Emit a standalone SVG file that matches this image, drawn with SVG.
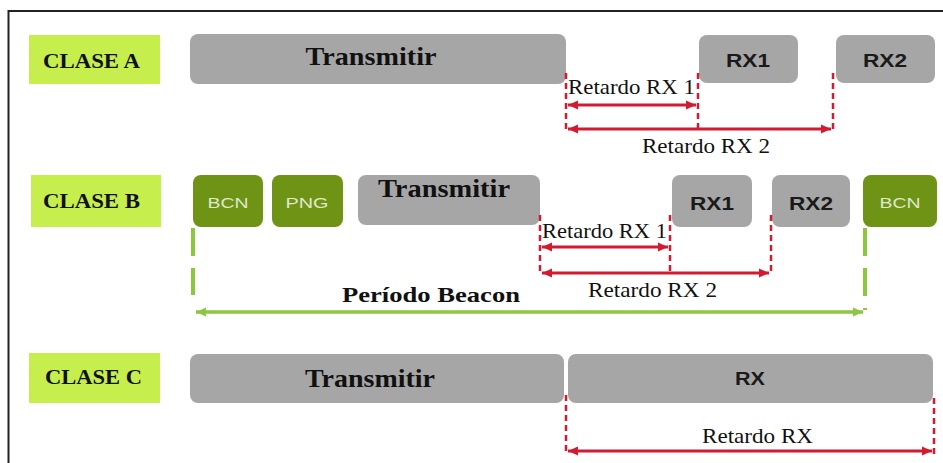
<svg xmlns="http://www.w3.org/2000/svg" width="943" height="463" viewBox="0 0 943 463">
<defs>
<style>
.lbl{fill:#c6ef4e}
.gbox{fill:#a6a6a6}
.dbox{fill:#6f9314}
.lt{font-family:"Liberation Serif","Times New Roman",serif;font-weight:bold;font-size:21px;fill:#111}
.tt{font-family:"Liberation Serif","Times New Roman",serif;font-weight:bold;font-size:25px;fill:#111;text-anchor:middle}
.rx{font-family:"Liberation Sans",Arial,sans-serif;font-weight:bold;font-size:19px;fill:#1a1a1a;text-anchor:middle}
.bc{font-family:"Liberation Sans",Arial,sans-serif;font-size:15px;fill:#dfe8cf;text-anchor:middle}
.rt{font-family:"Liberation Serif","Times New Roman",serif;font-size:22px;fill:#111}
.pb{font-family:"Liberation Serif","Times New Roman",serif;font-weight:bold;font-size:21px;fill:#111}
.rd{stroke:#d41a30;stroke-width:2.5;stroke-dasharray:6 4;fill:none}
.ra{stroke:#d41a30;stroke-width:3;fill:none;marker-start:url(#rs);marker-end:url(#re)}
.gd{stroke:#8dc63f;stroke-width:4;stroke-dasharray:28 12;fill:none}
.ga{stroke:#8dc63f;stroke-width:3.5;fill:none;marker-start:url(#gs);marker-end:url(#ge)}
</style>
<marker id="re" markerUnits="userSpaceOnUse" markerWidth="12" markerHeight="12" refX="10" refY="6" orient="auto"><path d="M0,1.5 L10,6 L0,10.5 Z" fill="#d41a30"/></marker>
<marker id="rs" markerUnits="userSpaceOnUse" markerWidth="12" markerHeight="12" refX="2" refY="6" orient="auto"><path d="M12,1.5 L2,6 L12,10.5 Z" fill="#d41a30"/></marker>
<marker id="ge" markerUnits="userSpaceOnUse" markerWidth="12" markerHeight="12" refX="10" refY="6" orient="auto"><path d="M0,1.5 L10,6 L0,10.5 Z" fill="#8dc63f"/></marker>
<marker id="gs" markerUnits="userSpaceOnUse" markerWidth="12" markerHeight="12" refX="2" refY="6" orient="auto"><path d="M12,1.5 L2,6 L12,10.5 Z" fill="#8dc63f"/></marker>
</defs>
<rect width="943" height="463" fill="#fff"/>
<path d="M8.5,463 V11 H943" fill="none" stroke="#222" stroke-width="2"/>

<g id="claseA">
<rect class="lbl" x="29" y="35" width="131" height="49"/>
<text class="lt" x="43" y="68" textLength="97" lengthAdjust="spacingAndGlyphs">CLASE A</text>
</g>
<g id="txA">
<rect class="gbox" x="190" y="34" width="376" height="50" rx="8"/>
<text class="tt" x="371" y="65" textLength="131" lengthAdjust="spacingAndGlyphs">Transmitir</text>
</g>
<g id="rx1A">
<rect class="gbox" x="699" y="35" width="99" height="48" rx="8"/>
<text class="rx" x="748" y="67" textLength="44" lengthAdjust="spacingAndGlyphs">RX1</text>
</g>
<g id="rx2A">
<rect class="gbox" x="836" y="35" width="99" height="48" rx="8"/>
<text class="rx" x="885" y="67" textLength="44" lengthAdjust="spacingAndGlyphs">RX2</text>
</g>

<g id="claseB">
<rect class="lbl" x="31" y="175" width="130" height="52"/>
<text class="lt" x="43" y="208" textLength="97" lengthAdjust="spacingAndGlyphs">CLASE B</text>
</g>
<g id="bcnB1">
<rect class="dbox" x="193" y="175" width="70" height="52" rx="8"/>
<text class="bc" x="228" y="208" textLength="41" lengthAdjust="spacingAndGlyphs">BCN</text>
</g>
<g id="pngB">
<rect class="dbox" x="272" y="175" width="71" height="52" rx="8"/>
<text class="bc" x="307" y="208" textLength="43" lengthAdjust="spacingAndGlyphs">PNG</text>
</g>
<g id="txB">
<rect class="gbox" x="358" y="175" width="182" height="50" rx="8"/>
<text class="tt" x="444" y="197" textLength="132" lengthAdjust="spacingAndGlyphs">Transmitir</text>
</g>
<g id="rx1B">
<rect class="gbox" x="672" y="175" width="80" height="52" rx="8"/>
<text class="rx" x="712" y="210" textLength="44" lengthAdjust="spacingAndGlyphs">RX1</text>
</g>
<g id="rx2B">
<rect class="gbox" x="772" y="175" width="78" height="52" rx="8"/>
<text class="rx" x="811" y="210" textLength="44" lengthAdjust="spacingAndGlyphs">RX2</text>
</g>
<g id="bcnB2">
<rect class="dbox" x="863" y="175" width="74" height="52" rx="8"/>
<text class="bc" x="900" y="208" textLength="41" lengthAdjust="spacingAndGlyphs">BCN</text>
</g>

<g id="claseC">
<rect class="lbl" x="29" y="353" width="131" height="50"/>
<text class="lt" x="45" y="384" textLength="97" lengthAdjust="spacingAndGlyphs">CLASE C</text>
</g>
<g id="txC">
<rect class="gbox" x="190" y="354" width="374" height="49" rx="8"/>
<text class="tt" x="370" y="387" textLength="130" lengthAdjust="spacingAndGlyphs">Transmitir</text>
</g>
<g id="rxC">
<rect class="gbox" x="568" y="354" width="365" height="49" rx="8"/>
<text class="rx" x="750" y="385" textLength="30" lengthAdjust="spacingAndGlyphs">RX</text>
</g>

<g id="connectors">
<path class="rd" d="M566,73 V130 M698,73 V130 M833,73 V130"/>
<path class="ra" d="M568,105 H696"/>
<path class="ra" d="M568,129 H831"/>
<path class="rd" d="M540,215 V275 M670,215 V275 M771,215 V275"/>
<path class="ra" d="M542,247 H668"/>
<path class="ra" d="M542,273 H769"/>
<path class="gd" d="M193,228 V295"/>
<path class="gd" d="M865,228 V310"/>
<path class="ga" d="M196,312 H863"/>
<path class="rd" d="M566,395 V452 M934,398 V455"/>
<path class="ra" d="M568,451 H932"/>
</g>

<g id="labels">
<text class="rt" x="568" y="94" textLength="127" lengthAdjust="spacingAndGlyphs">Retardo RX 1</text>
<text class="rt" x="642" y="153" textLength="128" lengthAdjust="spacingAndGlyphs">Retardo RX 2</text>
<text class="rt" x="542" y="238" textLength="125" lengthAdjust="spacingAndGlyphs">Retardo RX 1</text>
<text class="rt" x="588" y="297" textLength="129" lengthAdjust="spacingAndGlyphs">Retardo RX 2</text>
<text class="pb" x="342" y="302" textLength="178" lengthAdjust="spacingAndGlyphs">Período Beacon</text>
<text class="rt" x="702" y="443" textLength="111" lengthAdjust="spacingAndGlyphs">Retardo RX</text>
</g>
</svg>
